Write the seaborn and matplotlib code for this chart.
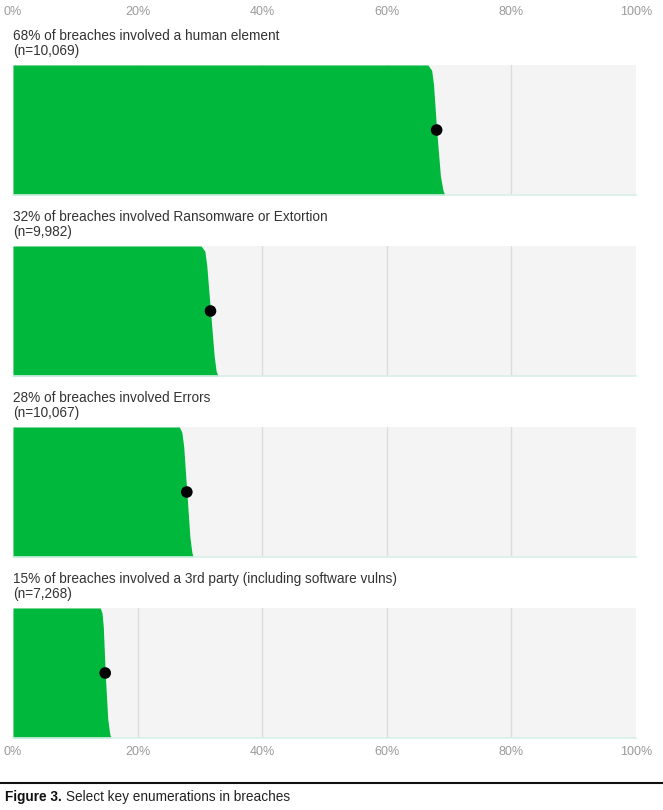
import numpy as np
import pandas as pd
import matplotlib.pyplot as plt
import seaborn as sns

sns.set_theme(style="white")
plt.rcParams['font.family'] = ['Liberation Sans', 'DejaVu Sans']

# Data
titles = [
    "68% of breaches involved a human element",
    "32% of breaches involved Ransomware or Extortion",
    "28% of breaches involved Errors",
    "15% of breaches involved a 3rd party (including software vulns)",
]
sample_sizes = ["10,069", "9,982", "10,067", "7,268"]
point_values = [68.0, 31.7, 27.9, 14.8]
# right edge of the green slab, sampled at these heights (0 = top, 1 = bottom)
edge_heights = [0.0, 0.04, 0.15, 0.5, 0.85, 0.96, 1.0]
edge_panel1 = [66.6, 67.2, 67.5, 68.0, 68.6, 69.0, 69.3]
edge_panel2 = [30.2, 30.8, 31.1, 31.7, 32.3, 32.6, 32.9]
edge_panel3 = [26.7, 27.1, 27.4, 27.9, 28.4, 28.7, 28.9]
edge_panel4 = [14.0, 14.3, 14.5, 14.8, 15.2, 15.5, 15.7]
edges = [edge_panel1, edge_panel2, edge_panel3, edge_panel4]
tick_values = [0, 20, 40, 60, 80, 100]
tick_labels = ["0%", "20%", "40%", "60%", "80%", "100%"]

green = "#00b83c"
panel_bg = "#f4f4f4"
grid_col = "#dcdcdc"
text_col = "#333333"
tick_col = "#9a9a9a"

W, H = 663, 810
fig = plt.figure(figsize=(W / 100, H / 100), dpi=100)

left = 13 / W
width = 623 / W
panel_tops = [65, 246, 427, 608]
panel_h = 130

for i, (title, n, val, edge) in enumerate(zip(titles, sample_sizes, point_values, edges)):
    top = panel_tops[i]
    ax = fig.add_axes([left, 1 - (top + panel_h) / H, width, panel_h / H])
    ax.set_facecolor(panel_bg)
    ax.set_xlim(0, 100)
    ax.set_ylim(1, 0)

    for g in tick_values[1:-1]:
        ax.axvline(g, color=grid_col, lw=1, zorder=1)

    slab = pd.DataFrame({"h": edge_heights, "x": edge})
    ax.fill_betweenx(slab["h"], 0, slab["x"], color=green, lw=0, zorder=2)

    dot = pd.DataFrame({"x": [val], "y": [0.5]})
    sns.scatterplot(data=dot, x="x", y="y", ax=ax, color="black", s=70,
                    edgecolor="none", zorder=3, legend=False)

    ax.set_xlabel("")
    ax.set_ylabel("")
    ax.set_yticks([])
    for s in ["top", "left", "right"]:
        ax.spines[s].set_visible(False)
    ax.spines["bottom"].set_color("#d6f0e8")
    ax.spines["bottom"].set_linewidth(1.2)

    ax.set_xticks(tick_values)
    ax.set_xticklabels(tick_labels)
    if i == 0:
        ax.tick_params(axis="x", top=False, bottom=False, labeltop=True,
                       labelbottom=False, length=0, pad=34, labelsize=9,
                       labelcolor=tick_col)
    elif i == 3:
        ax.tick_params(axis="x", top=False, bottom=False, labeltop=False,
                       labelbottom=True, length=0, pad=6, labelsize=9,
                       labelcolor=tick_col)
    else:
        ax.tick_params(axis="x", bottom=False, labelbottom=False)

    ax.text(0, 1.055, f"{title}\n(n={n})", transform=ax.transAxes,
            ha="left", va="bottom", fontsize=9.8, color=text_col,
            linespacing=1.05)

# caption rule and text
fig.add_artist(plt.Line2D([0, 1], [1 - 783 / H] * 2, color="#111111", lw=1.5))
cap_y = 1 - 797 / H
t1 = fig.text(5 / W, cap_y, "Figure 3. ", fontsize=9.8, fontweight="bold",
              ha="left", va="center", color="#111111")
fig.canvas.draw()
bb = t1.get_window_extent()
fig.text(bb.x1 / W, cap_y, "Select key enumerations in breaches", fontsize=9.8,
         ha="left", va="center", color="#222222")

fig.savefig("out.png", dpi=100)
